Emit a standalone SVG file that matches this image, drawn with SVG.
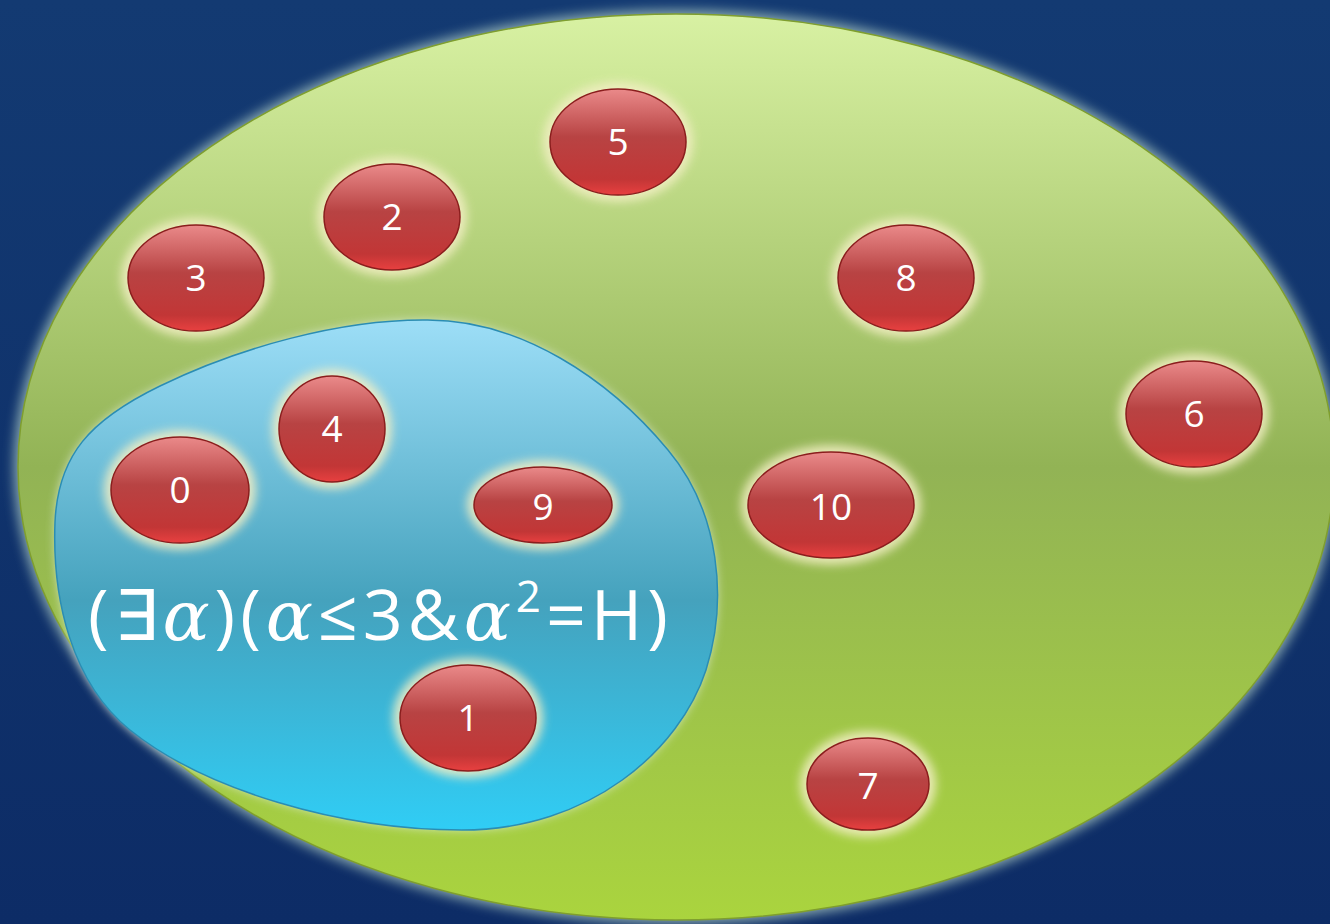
<svg xmlns="http://www.w3.org/2000/svg" width="1330" height="924" viewBox="0 0 1330 924">
<defs>
<linearGradient id="bg" x1="0" y1="0" x2="0" y2="1"><stop offset="0" stop-color="#133a72"/><stop offset="1" stop-color="#0d2c66"/></linearGradient>
<linearGradient id="green" x1="0" y1="0" x2="0" y2="1"><stop offset="0" stop-color="#d8f1a3"/><stop offset="0.5" stop-color="#92b355"/><stop offset="1" stop-color="#aad43e"/></linearGradient>
<linearGradient id="blue" x1="0" y1="0" x2="0" y2="1"><stop offset="0" stop-color="#9ddef7"/><stop offset="0.55" stop-color="#45a2bd"/><stop offset="1" stop-color="#30cdf5"/></linearGradient>
<linearGradient id="red" x1="0" y1="0" x2="0" y2="1"><stop offset="0" stop-color="#ea8a8a"/><stop offset="0.45" stop-color="#b84343"/><stop offset="0.85" stop-color="#c23636"/><stop offset="1" stop-color="#e84040"/></linearGradient>
<filter id="glowBig" x="-10%" y="-10%" width="120%" height="120%"><feGaussianBlur stdDeviation="6"/></filter>
<filter id="glowSm" x="-30%" y="-30%" width="160%" height="160%"><feGaussianBlur stdDeviation="5"/></filter>
</defs>
<style>
.node ellipse.b{fill:url(#red);stroke:#8a1d1d;stroke-width:1.5}
.node ellipse.g{fill:#f3efc4;opacity:0.85;filter:url(#glowSm)}
.node text{font-family:"Open Sans","Liberation Sans",sans-serif;font-size:37px;fill:#ffffff;text-anchor:middle}
.formula{font-family:"Open Sans","Liberation Sans",sans-serif;font-size:70px;fill:#ffffff}
.formula .a{font-family:"DejaVu Serif","Liberation Serif",serif;font-style:italic}
</style>
<rect width="1330" height="924" fill="url(#bg)"/>
<g id="universe">
<ellipse cx="676" cy="467" rx="662" ry="457" fill="#a9c7c0" opacity="0.8" filter="url(#glowBig)"/>
<ellipse cx="676" cy="467" rx="658" ry="453" fill="url(#green)" stroke="#7f9e2e" stroke-width="1.5"/>
</g>
<g id="set">
<path d="M423,320 C520,318 610,380 668,450 C720,512 728,600 706,670 C680,750 590,830 462,830 C340,830 205,790 130,730 C72,683 52,600 55,522 C58,455 90,420 160,386 C240,347 340,320 423,320 Z" fill="#e8f4e8" opacity="0.7" filter="url(#glowSm)"/>
<path d="M423,320 C520,318 610,380 668,450 C720,512 728,600 706,670 C680,750 590,830 462,830 C340,830 205,790 130,730 C72,683 52,600 55,522 C58,455 90,420 160,386 C240,347 340,320 423,320 Z" fill="url(#blue)" stroke="#2b8db3" stroke-width="1.5"/>
</g>
<g id="n5" class="node"><ellipse class="g" cx="618" cy="142" rx="75" ry="60"/><ellipse class="b" cx="618" cy="142" rx="68" ry="53"/><text x="618" y="155">5</text></g>
<g id="n2" class="node"><ellipse class="g" cx="392" cy="217" rx="75" ry="60"/><ellipse class="b" cx="392" cy="217" rx="68" ry="53"/><text x="392" y="230">2</text></g>
<g id="n3" class="node"><ellipse class="g" cx="196" cy="278" rx="75" ry="60"/><ellipse class="b" cx="196" cy="278" rx="68" ry="53"/><text x="196" y="291">3</text></g>
<g id="n8" class="node"><ellipse class="g" cx="906" cy="278" rx="75" ry="60"/><ellipse class="b" cx="906" cy="278" rx="68" ry="53"/><text x="906" y="291">8</text></g>
<g id="n6" class="node"><ellipse class="g" cx="1194" cy="414" rx="75" ry="60"/><ellipse class="b" cx="1194" cy="414" rx="68" ry="53"/><text x="1194" y="427">6</text></g>
<g id="n4" class="node"><ellipse class="g" cx="332" cy="429" rx="60" ry="60"/><ellipse class="b" cx="332" cy="429" rx="53" ry="53"/><text x="332" y="442">4</text></g>
<g id="n0" class="node"><ellipse class="g" cx="180" cy="490" rx="76" ry="60"/><ellipse class="b" cx="180" cy="490" rx="69" ry="53"/><text x="180" y="503">0</text></g>
<g id="n9" class="node"><ellipse class="g" cx="543" cy="505" rx="76" ry="45"/><ellipse class="b" cx="543" cy="505" rx="69" ry="38"/><text x="543" y="520">9</text></g>
<g id="n10" class="node"><ellipse class="g" cx="831" cy="505" rx="90" ry="60"/><ellipse class="b" cx="831" cy="505" rx="83" ry="53"/><text x="831" y="520">10</text></g>
<g id="n1" class="node"><ellipse class="g" cx="468" cy="718" rx="75" ry="60"/><ellipse class="b" cx="468" cy="718" rx="68" ry="53"/><text x="468" y="731">1</text></g>
<g id="n7" class="node"><ellipse class="g" cx="868" cy="784" rx="68" ry="53"/><ellipse class="b" cx="868" cy="784" rx="61" ry="46"/><text x="868" y="799">7</text></g>
<text class="formula" x="88" y="640" textLength="580" lengthAdjust="spacing">(∃<tspan class="a">α</tspan>)(<tspan class="a">α</tspan>≤3&amp;<tspan class="a">α</tspan><tspan font-size="44" dy="-28">2</tspan><tspan dy="28">=H)</tspan></text>
</svg>
